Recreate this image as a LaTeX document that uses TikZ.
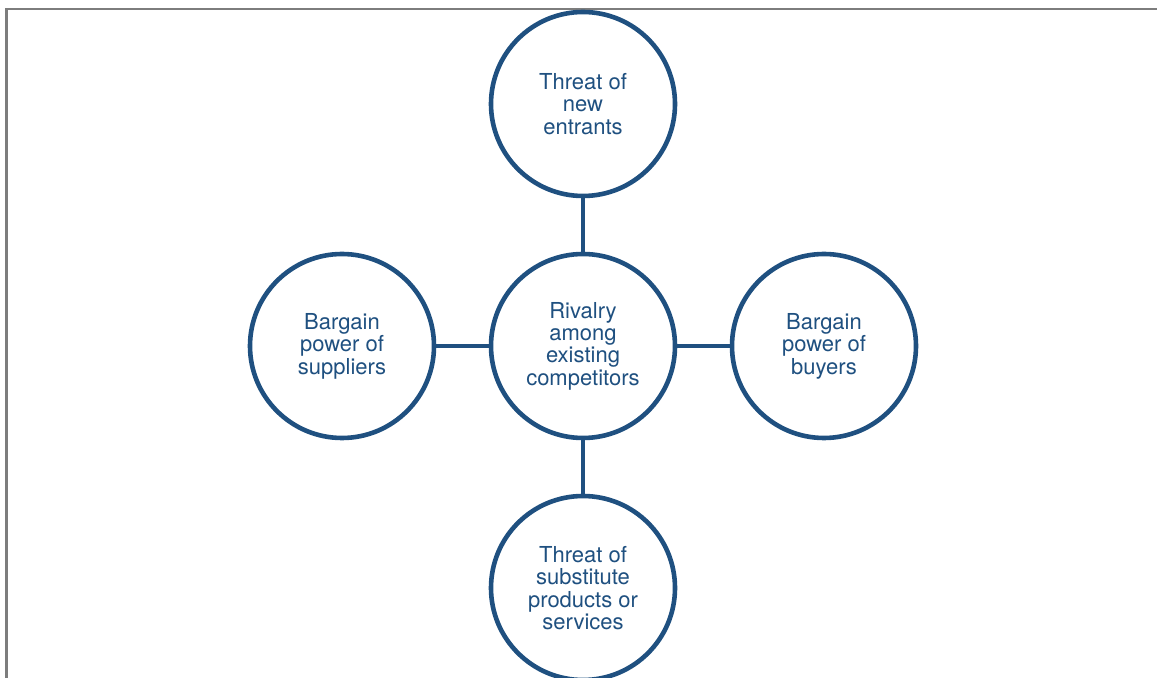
\documentclass[tikz,border=0pt]{standalone}
\usepackage{fontspec}
\setsansfont{TeX Gyre Heros}
\usepackage{xcolor}
\definecolor{forceBlue}{RGB}{31,80,128}
\definecolor{frameGray}{RGB}{125,125,125}
\usepackage{tikz}
\usetikzlibrary{positioning,calc}
\tikzstyle{forcenode}=[circle, draw=forceBlue, line width=2.3pt, fill=white, minimum size=92pt, inner sep=0pt, align=center, text=forceBlue, font=\sffamily\fontsize{11}{11.2}\selectfont]
\tikzstyle{forcelink}=[draw=forceBlue, line width=2pt]
\tikzstyle{framerule}=[draw=frameGray, line width=1.4pt]

\begin{document}
\begin{tikzpicture}[x=0.5pt, y=-0.5pt]
        \useasboundingbox (0,0) rectangle (1157,678);
        % Rahmen (nur oben und links sichtbar)
        \coordinate (fa) at (6.5,678);
        \coordinate (fb) at (6.5,9);
        \coordinate (fc) at (1157,9);
        \draw[framerule] (fa) -- (fb) -- (fc);

        % Kräfte
        \node[forcenode] (rival) at (583,346) {Rivalry\\among\\existing\\competitors};
        \node[forcenode] (entry) at (583,104) {Threat of\\new\\entrants};
        \node[forcenode] (suppl) at (342,346) {Bargain\\power of\\suppliers};
        \node[forcenode] (buyer) at (824,346) {Bargain\\power of\\buyers};
        \node[forcenode] (subst) at (583,588) {Threat of\\substitute\\products or\\services};

        % Verbindungen
        \draw[forcelink] (rival) -- (entry);
        \draw[forcelink] (rival) -- (suppl);
        \draw[forcelink] (rival) -- (buyer);
        \draw[forcelink] (rival) -- (subst);
      \end{tikzpicture}
\end{document}
